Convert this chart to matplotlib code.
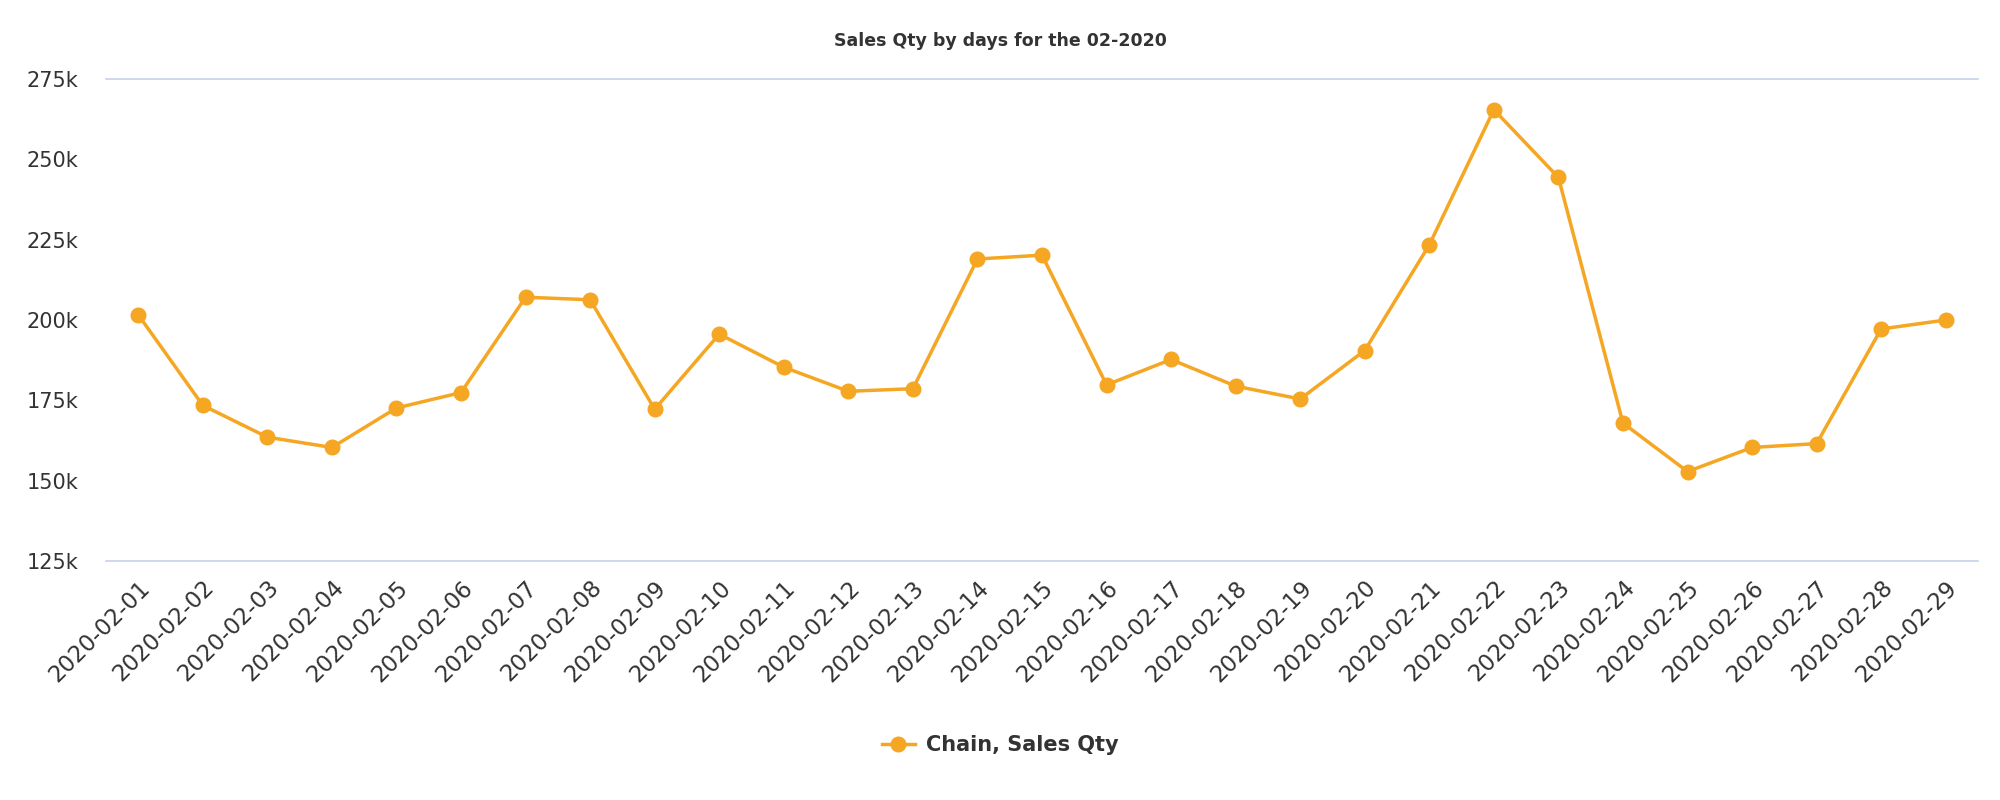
import matplotlib
matplotlib.use("Agg")
import matplotlib.pyplot as plt
from matplotlib.ticker import FuncFormatter

# Daily sales for February 2020
days = [f"2020-02-{d:02d}" for d in range(1, 30)]
sales_qty = [
    201600, 173400, 163500, 160300, 172600, 177400, 207100, 206300, 172200, 195600,
    185300, 177800, 178600, 219000, 220200, 179800, 187700, 179400, 175400, 190500,
    223400, 265500, 244400, 167900, 152800, 160300, 161500, 197200, 200000,
]
y_ticks = [125000, 150000, 175000, 200000, 225000, 250000, 275000]

TITLE = "Sales Qty by days for the 02-2020"
SERIES_NAME = "Chain, Sales Qty"
LINE_COLOR = "#f5a623"
GRID_COLOR = "#ccd6eb"
TEXT_COLOR = "#333333"

plt.rcParams["font.family"] = ["DejaVu Sans"]

fig = plt.figure(figsize=(20, 8), dpi=100)
ax = fig.add_axes([0.053, 0.299, 0.936, 0.602])

x = list(range(len(days)))
ax.plot(x, sales_qty, color=LINE_COLOR, lw=2.5, marker="o", markersize=10.5,
        label=SERIES_NAME, zorder=3)

ax.set_xlim(-0.5, len(days) - 0.5)
ax.set_ylim(y_ticks[0], y_ticks[-1])

# only the top gridline and the bottom axis line are visible
for yv in (y_ticks[0], y_ticks[-1]):
    ax.axhline(yv, color=GRID_COLOR, lw=1.3, zorder=1, clip_on=False)

for side in ["top", "right", "left", "bottom"]:
    ax.spines[side].set_visible(False)

ax.set_yticks(y_ticks)
ax.yaxis.set_major_formatter(FuncFormatter(lambda v, p: f"{int(v / 1000)}k"))
ax.tick_params(axis="y", length=0, pad=20, labelsize=15, labelcolor=TEXT_COLOR)

ax.set_xticks(x)
ax.set_xticklabels(days, rotation=45, ha="right", va="top", rotation_mode="anchor")
ax.tick_params(axis="x", length=0, pad=11, labelsize=16.5, labelcolor=TEXT_COLOR)

fig.text(0.5, 0.949, TITLE, ha="center", va="center", fontsize=12.5,
         fontweight="bold", color=TEXT_COLOR)

fig.legend(loc="center", bbox_to_anchor=(0.5, 0.069), frameon=False,
           prop={"size": 15, "weight": "bold"}, labelcolor=TEXT_COLOR,
           handlelength=1.6, handletextpad=0.5)

fig.savefig("out.png", dpi=100, facecolor="white")
